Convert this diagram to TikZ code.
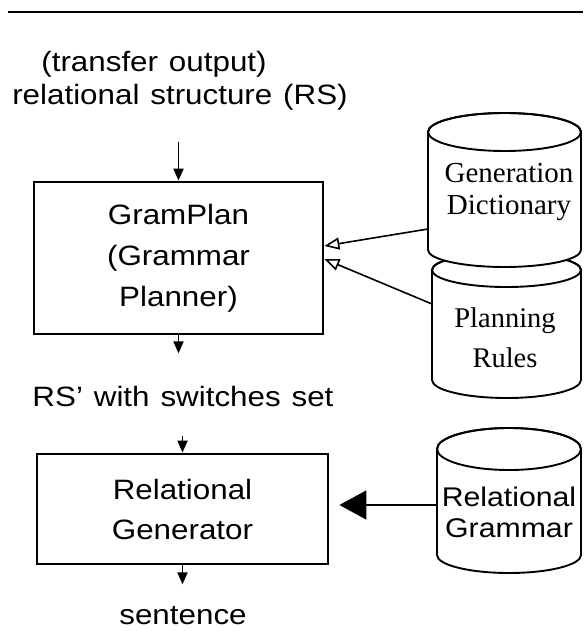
\documentclass[tikz,border=0pt]{standalone}
\usepackage{fontspec}
\setmainfont{Liberation Sans}[FakeStretch=1.12,WordSpace=1.25]
\newfontfamily\cylserif{Liberation Serif}
\usetikzlibrary{arrows.meta,calc}
\begin{document}
\begin{tikzpicture}[x=1pt,y=-1pt,
  boxnode/.style={draw,line width=2.8pt,inner sep=0pt,align=center,font=\fontsize{28}{41}\selectfont},
  lbl/.style={anchor=base,inner sep=0pt,font=\fontsize{28}{34}\selectfont},
  cyl/.style={line width=1.9pt,fill=white},
  cyltxt/.style={inner sep=0pt,align=center},
  arr/.style={line width=1.8pt,-{Triangle[length=12pt,width=10pt]}},
  openarr/.style={line width=1.6pt,-{Triangle[open,length=15pt,width=12pt]}},
  bigarr/.style={line width=1.8pt,-{Triangle[length=27pt,width=29pt]}},
  anchorbox/.style={inner sep=0pt,outer sep=0pt}]
\useasboundingbox (0,0) rectangle (583,631);

% top rule
\draw[line width=2.8pt] (8,12) -- (583,12);

% labels
\node[lbl] (t1) at (154,72) {(transfer output)};
\node[lbl] (t2) at (180,105) {relational structure (RS)};
\node[lbl] (t3) at (183,406) {RS’ with switches set};
\node[lbl] (t4) at (183,624) {sentence};

% boxes
\node[boxnode, minimum width=289pt, minimum height=152pt] (b1) at (178.5,258) {GramPlan\\(Grammar\\Planner)};
\node[boxnode, minimum width=291pt, minimum height=110pt, font=\fontsize{28}{40}\selectfont] (b2) at (182.5,509) {Relational\\Generator};

% Planning Rules cylinder
\node[anchorbox, minimum width=149pt, minimum height=110pt] (pr) at (506.5,325) {};
\filldraw[cyl] (pr.north west) -- (pr.south west) arc[start angle=180,end angle=0,x radius=74.5,y radius=18] -- (pr.north east) arc[start angle=0,end angle=-180,x radius=74.5,y radius=17] -- cycle;
\draw[line width=1.9pt] (pr.north) ellipse[x radius=74.5,y radius=17];
\node[cyltxt, font=\cylserif\fontsize{28.5}{40}\selectfont] (prt) at (505,338) {Planning\\Rules};

% Generation Dictionary cylinder
\node[anchorbox, minimum width=153pt, minimum height=118pt] (gd) at (504.5,191) {};
\filldraw[cyl] (gd.north west) -- (gd.south west) arc[start angle=180,end angle=0,x radius=76.5,y radius=17] -- (gd.north east) arc[start angle=0,end angle=-180,x radius=76.5,y radius=19] -- cycle;
\draw[line width=1.9pt] (gd.north) ellipse[x radius=76.5,y radius=19];
\node[cyltxt, font=\cylserif\fontsize{29}{32}\selectfont] (gdt) at (509,192) {Generation\\Dictionary};

% Relational Grammar cylinder
\node[anchorbox, minimum width=144pt, minimum height=106pt] (rg) at (509,502) {};
\filldraw[cyl] (rg.north west) -- (rg.south west) arc[start angle=180,end angle=0,x radius=72,y radius=18] -- (rg.north east) arc[start angle=0,end angle=-180,x radius=72,y radius=21] -- cycle;
\draw[line width=1.9pt] (rg.north) ellipse[x radius=72,y radius=21];
\node[cyltxt, font=\fontsize{27}{31}\selectfont] (rgt) at (509,512) {Relational\\Grammar};

% connectors
\draw[arr] ([yshift=39pt]b1.north) -- (b1.north);
\draw[arr] (b1.south) -- ++(0,18);
\draw[arr] ([yshift=17pt]b2.north) -- (b2.north);
\draw[arr] (b2.south) -- ++(0,19);
\draw[openarr] ([yshift=-38pt]gd.west) -- ([yshift=12pt]b1.east);
\draw[openarr] ([yshift=21pt]pr.west) -- ([yshift=-1pt]b1.east);
\draw[bigarr, shorten >=10pt] ([yshift=-3pt]rg.west) -- ([yshift=4pt]b2.east);
\end{tikzpicture}
\end{document}
